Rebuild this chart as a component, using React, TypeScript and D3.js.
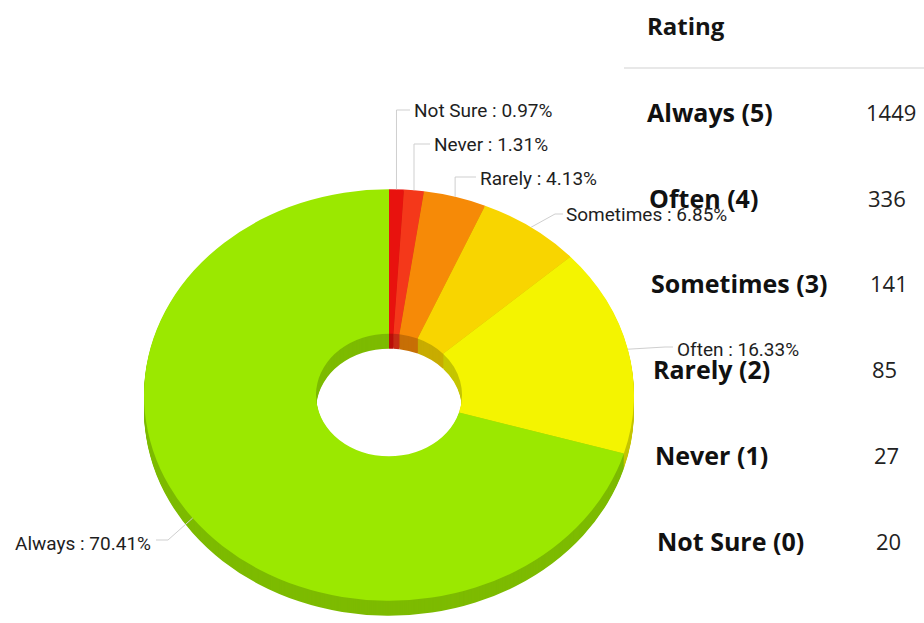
import React, { useEffect, useRef } from "react";
import * as d3 from "d3";

const categories = ["Not Sure", "Never", "Rarely", "Sometimes", "Often", "Always"];
const counts = [20, 27, 85, 141, 336, 1449];
const sliceColors = ["#e8120e", "#f4381a", "#f68a07", "#f8d500", "#f4f400", "#9be800"];

const tableHeader = "Rating";
const tableLabels = ["Always (5)", "Often (4)", "Sometimes (3)", "Rarely (2)", "Never (1)", "Not Sure (0)"];
const tableValues = [1449, 336, 141, 85, 27, 20];

// label placement for each slice (layout only): elbow / end of leader and text position
const labelLayout = [
  { elbowY: 110, endX: 410, tx: 414, ty: 110, anchor: "start", vertical: true },
  { elbowY: 144, endX: 430, tx: 434, ty: 144, anchor: "start", vertical: true },
  { elbowY: 177, endX: 476, tx: 480, ty: 178, anchor: "start", vertical: true },
  { elbowX: 555, elbowY: 214, endX: 563, tx: 566, ty: 214, anchor: "start", vertical: false },
  { elbowX: 665, elbowY: 347, endX: 673, tx: 677, ty: 349, anchor: "start", vertical: false },
  { elbowX: 168, elbowY: 540, endX: 156, tx: 151, ty: 543, anchor: "end", vertical: false },
];

const App = () => {
  const ref = useRef<SVGSVGElement>(null);

  useEffect(() => {
    const width = 924,
      height = 623;
    const cx = 389,
      cy = 395,
      rx = 245,
      innerR = 73,
      tilt = 0.84,
      depth = 15;

    const svg = d3.select(ref.current);
    svg.selectAll("*").remove();
    svg.attr("width", width).attr("height", height);

    // table on the right
    const table = svg.append("g");
    table
      .append("text")
      .attr("x", 647)
      .attr("y", 27)
      .attr("dy", "0.35em")
      .style("font-family", "'Open Sans', sans-serif")
      .style("font-weight", 700)
      .style("font-size", "24px")
      .style("fill", "#141414")
      .text(tableHeader);
    table
      .append("line")
      .attr("x1", 624)
      .attr("x2", width)
      .attr("y1", 68)
      .attr("y2", 68)
      .attr("stroke", "#e8e8e8")
      .attr("stroke-width", 2);

    const rowY = d3.scalePoint<number>().domain(d3.range(tableLabels.length)).range([113, 542]);

    table
      .selectAll("text.lbl")
      .data(tableLabels)
      .enter()
      .append("text")
      .attr("class", "lbl")
      .attr("x", (d, i) => 647 + i * 2)
      .attr("y", (d, i) => rowY(i)!)
      .attr("dy", "0.35em")
      .style("font-family", "'Open Sans', sans-serif")
      .style("font-weight", 700)
      .style("font-size", "25px")
      .style("fill", "#111")
      .text((d) => d);

    table
      .selectAll("text.val")
      .data(tableValues)
      .enter()
      .append("text")
      .attr("class", "val")
      .attr("x", (d, i) => 866 + i * 2)
      .attr("y", (d, i) => rowY(i)!)
      .attr("dy", "0.35em")
      .style("font-family", "'Open Sans', sans-serif")
      .style("font-size", "22px")
      .style("fill", "#222")
      .text((d) => d);

    // 3d donut
    const pie = d3
      .pie<number>()
      .sort(null)
      .value((d) => d);
    const arcs = pie(counts);
    const total = d3.sum(counts);

    const arcGen = d3
      .arc<d3.PieArcDatum<number>>()
      .innerRadius(innerR)
      .outerRadius(rx);

    const donut = svg.append("g");

    // side walls: stacked darker layers
    for (let k = depth; k > 0; k--) {
      donut
        .append("g")
        .attr("transform", `translate(${cx}, ${cy + k}) scale(1, ${tilt})`)
        .selectAll("path")
        .data(arcs)
        .enter()
        .append("path")
        .attr("d", arcGen)
        .attr("fill", (d, i) => d3.color(sliceColors[i])!.darker(0.6).formatHex());
    }

    donut
      .append("g")
      .attr("transform", `translate(${cx}, ${cy}) scale(1, ${tilt})`)
      .selectAll("path")
      .data(arcs)
      .enter()
      .append("path")
      .attr("d", arcGen)
      .attr("fill", (d, i) => sliceColors[i]);

    // labels with leader lines
    const labels = svg.append("g");
    arcs.forEach((a, i) => {
      const mid = (a.startAngle + a.endAngle) / 2;
      const sx = cx + rx * Math.sin(mid);
      const sy = cy - rx * tilt * Math.cos(mid);
      const L = labelLayout[i];
      const pts: [number, number][] = L.vertical
        ? [
            [sx, sy],
            [sx, L.elbowY],
            [L.endX, L.elbowY],
          ]
        : [
            [sx, sy],
            [L.elbowX!, L.elbowY],
            [L.endX, L.elbowY],
          ];
      labels
        .append("path")
        .attr("d", d3.line()(pts))
        .attr("fill", "none")
        .attr("stroke", "#cfcfcf")
        .attr("stroke-width", 1);
      labels
        .append("text")
        .attr("x", L.tx)
        .attr("y", L.ty)
        .attr("dy", "0.35em")
        .attr("text-anchor", L.anchor)
        .style("font-family", "Roboto, sans-serif")
        .style("font-size", "19px")
        .style("fill", "#1e1e1e")
        .text(`${categories[i]} : ${((counts[i] / total) * 100).toFixed(2)}%`);
    });
  }, []);

  return (
    <div style={{ position: "absolute", left: 0, top: 0, background: "#fff" }}>
      <svg ref={ref} />
    </div>
  );
};

export default App;
